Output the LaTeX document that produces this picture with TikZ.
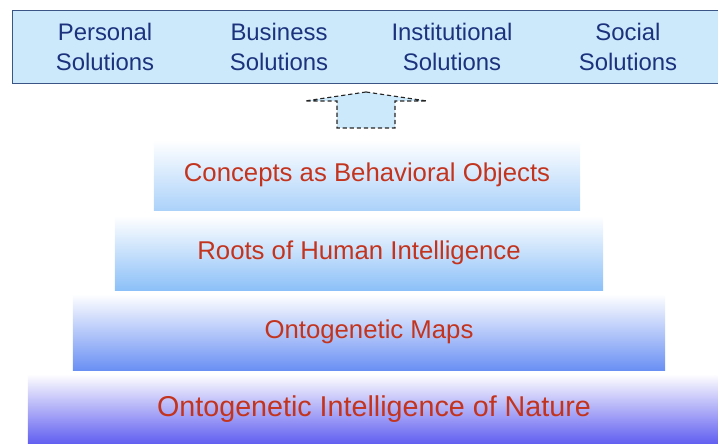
\documentclass[tikz,border=0pt]{standalone}
\usepackage{fontspec}
\setmainfont{Liberation Sans}
\usepackage{tikz}
\usetikzlibrary{shadings}
\definecolor{solfill} {RGB} {204, 233, 251}
\definecolor{solline} {RGB} {60, 85, 135}
\definecolor{soltext} {RGB} {28, 50, 125}
\definecolor{layertext} {RGB} {195, 52, 30}
\definecolor{layer1} {RGB} {172, 210, 250}
\definecolor{layer2} {RGB} {140, 192, 248}
\definecolor{layer3} {RGB} {106, 144, 244}
\definecolor{layer4} {RGB} {96, 94, 240}
\tikzstyle{pyr}=[
  x=0.025cm, y=-0.025cm, font=\fontsize{18.3}{21}\selectfont
]
\tikzstyle{solbox}=[
  draw=solline, line width=1.0pt, fill=solfill
]
\tikzstyle{soltxt}=[
  text=soltext, align=center, font=\fontsize{17}{21}\selectfont
]
\tikzstyle{layer}=[
  inner sep=0pt, top color=white, text=layertext
]
\tikzstyle{upbox}=[
  draw=black!85, dash pattern=on 3pt off 2pt, line width=0.8pt, fill=solfill
]

\begin{document}
\begin{tikzpicture}[pyr]
\clip (0,0) rectangle (718,444);
\node (sol) [solbox, minimum width=18cm, minimum height=1.825cm, anchor=north west] at (12, 10) {};
\node (personal) [soltxt] at (105, 47) {Personal\\Solutions};
\node (business) [soltxt] at (279, 47) {Business\\Solutions};
\node (institutional) [soltxt] at (452, 47) {Institutional\\Solutions};
\node (social) [soltxt] at (628, 47) {Social\\Solutions};

\node (concepts) [layer, bottom color=layer1, minimum width=10.65cm, minimum height=1.75cm] at (367, 175) {Concepts as Behavioral Objects};
\node (roots) [layer, bottom color=layer2, minimum width=12.2cm, minimum height=1.85cm] at (359, 253) {Roots of Human Intelligence};
\node (maps) [layer, bottom color=layer3, minimum width=14.8cm, minimum height=1.9cm] at (369, 332) {Ontogenetic Maps};
\node (nature) [layer, bottom color=layer4, minimum width=17.3cm, minimum height=1.75cm, font=\fontsize{20.4}{24}\selectfont] at (374, 409) {Ontogenetic Intelligence of Nature};

\coordinate (tip) at (366, 92);
\draw [upbox] (tip) -- (427, 101) -- (395, 101) -- (395, 128) -- (337, 128) -- (337, 101) -- (305, 101) -- cycle;
\end{tikzpicture}
\end{document}
